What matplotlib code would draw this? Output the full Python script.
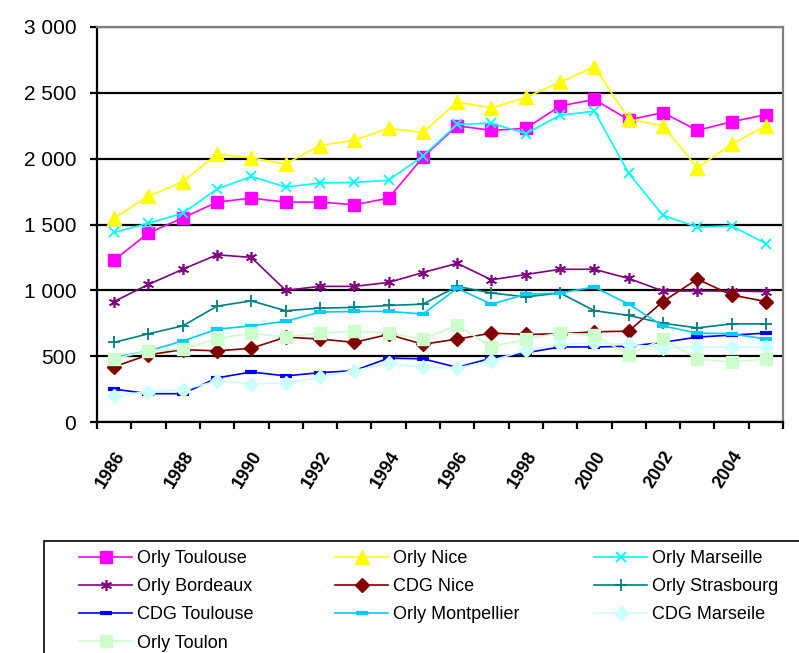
import matplotlib

matplotlib.use("Agg")
import matplotlib.pyplot as plt
import numpy as np
from matplotlib.patches import Rectangle

plt.rcParams["font.family"] = ["Liberation Sans", "DejaVu Sans"]

# Years on the x axis (one point per year, label every other year)
years = list(range(1986, 2006))
tick_years = [str(y) for y in years]

# Passenger traffic per route (thousands)
orly_toulouse = [1230, 1435, 1550, 1670, 1700, 1670, 1670, 1650, 1700, 2010,
                 2250, 2215, 2230, 2400, 2450, 2295, 2350, 2215, 2280, 2335]
orly_nice = [1550, 1715, 1825, 2035, 2005, 1960, 2100, 2140, 2230, 2200,
             2430, 2385, 2465, 2580, 2700, 2300, 2250, 1930, 2110, 2250]
orly_marseille = [1440, 1510, 1585, 1770, 1865, 1785, 1815, 1820, 1835, 2020,
                  2260, 2270, 2190, 2330, 2360, 1890, 1570, 1480, 1490, 1355]
orly_bordeaux = [915, 1045, 1160, 1270, 1250, 1000, 1030, 1030, 1060, 1135,
                 1205, 1080, 1120, 1160, 1160, 1090, 995, 995, 995, 990]
cdg_nice = [420, 510, 550, 540, 560, 645, 630, 605, 665, 590,
            630, 675, 665, 670, 685, 690, 915, 1085, 965, 915]
orly_strasbourg = [605, 670, 730, 880, 920, 845, 865, 870, 885, 895,
                   1030, 980, 950, 980, 845, 810, 750, 715, 745, 745]
cdg_toulouse = [250, 215, 215, 335, 380, 350, 375, 390, 485, 480,
                415, 485, 525, 570, 570, 575, 605, 645, 660, 675]
orly_montpellier = [490, 540, 615, 705, 730, 765, 835, 840, 840, 820,
                    1015, 895, 970, 980, 1025, 895, 730, 675, 670, 630]
cdg_marseille = [200, 230, 245, 310, 290, 295, 340, 390, 445, 415,
                 410, 465, 545, 590, 600, 590, 565, 570, 570, 570]
orly_toulon = [480, 540, 555, 630, 675, 645, 675, 690, 675, 630,
               735, 570, 630, 675, 660, 510, 630, 480, 455, 480]

series_names = ["Orly Toulouse", "Orly Nice", "Orly Marseille", "Orly Bordeaux",
                "CDG Nice", "Orly Strasbourg", "CDG Toulouse", "Orly Montpellier",
                "CDG Marseile", "Orly Toulon"]
series_values = [orly_toulouse, orly_nice, orly_marseille, orly_bordeaux,
                 cdg_nice, orly_strasbourg, cdg_toulouse, orly_montpellier,
                 cdg_marseille, orly_toulon]

colors = ["#FF00FF", "#FFFF00", "#00FFFF", "#800080", "#800000",
          "#008080", "#0000FF", "#00CCFF", "#CCFFFF", "#CCFFCC"]
markers = ["s", "^", "x", (6, 2, 0), "D", "+", "_", "_", "D", "s"]
msizes = [9, 10, 7, 8, 7.5, 9, 8, 8, 7.5, 9]
mews = [1, 1, 1.3, 1.2, 1, 1.3, 3, 3, 1, 1]

fig = plt.figure(figsize=(7.99, 6.53), dpi=100)
ax = fig.add_axes([97 / 799, 1 - 422 / 653, (783 - 97) / 799, (422 - 27) / 653])

x = np.arange(len(years))
handles = []
for name, vals, c, m, ms, mew in zip(series_names, series_values, colors,
                                     markers, msizes, mews):
    (h,) = ax.plot(x, vals, color=c, lw=1.2, marker=m, markersize=ms,
                   markeredgewidth=mew, markerfacecolor=c, markeredgecolor=c,
                   label=name)
    handles.append(h)

ax.set_xlim(-0.5, len(years) - 0.5)
ax.set_ylim(0, 3000)
ax.set_yticks(np.arange(0, 3001, 500))
ax.set_yticklabels([f"{v:,}".replace(",", " ") for v in range(0, 3001, 500)],
                   fontsize=15)
ax.yaxis.grid(True, color="black", lw=1.6)
ax.set_axisbelow(True)

# category boundary ticks, labels on every other year
ax.set_xticks(np.arange(-0.5, len(years)), minor=True)
ax.set_xticks(x[::2])
ax.set_xticklabels(tick_years[::2], rotation=58, ha="right", va="top",
                   rotation_mode="anchor", fontsize=13, fontweight="bold")
ax.tick_params(axis="x", which="major", length=0, pad=19)
ax.tick_params(axis="x", which="minor", length=5, width=1.6, direction="out")
ax.tick_params(axis="y", length=5, width=1.6, direction="out", pad=10)

for side in ("left", "bottom"):
    ax.spines[side].set_color("black")
    ax.spines[side].set_linewidth(1.6)
for side in ("top", "right"):
    ax.spines[side].set_color("#808080")
    ax.spines[side].set_linewidth(1.6)

# legend box, cut off by the figure edge like the original
fig.patches.append(Rectangle((44 / 799, -0.05), 1.0, 0.05 + 1 - 541 / 653,
                             transform=fig.transFigure, facecolor="white",
                             edgecolor="black", lw=1.2))

col_x = [79, 335, 594]
cols = [[0, 3, 6, 9], [1, 4, 7], [2, 5, 8]]
for cx, idx in zip(col_x, cols):
    fig.legend([handles[i] for i in idx], [series_names[i] for i in idx],
               loc="upper left", bbox_to_anchor=(cx / 799, 1 - 550 / 653),
               frameon=False, borderpad=0, borderaxespad=0, fontsize=13,
               handlelength=2.95, handletextpad=0.28, labelspacing=0.62)

fig.savefig("out.png", dpi=100)
